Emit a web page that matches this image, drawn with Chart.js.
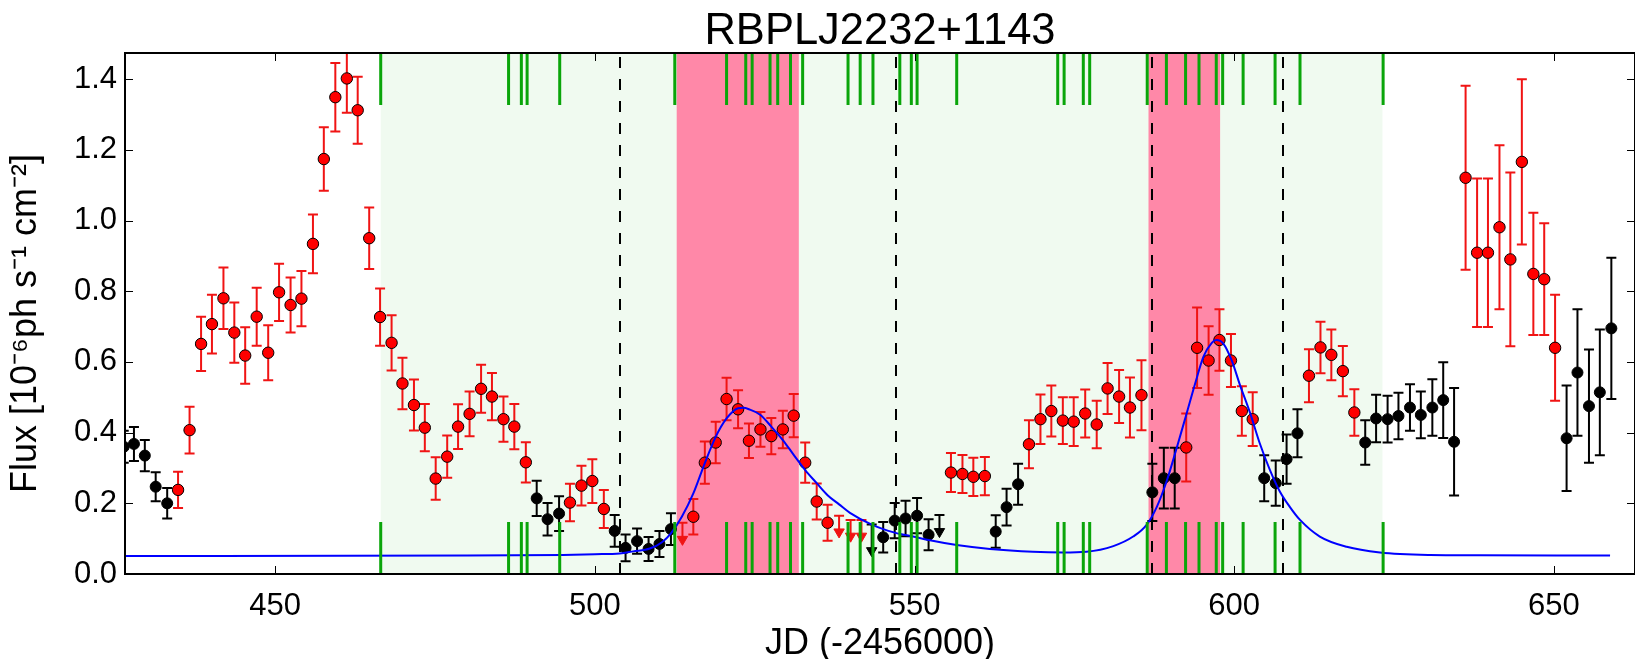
<!DOCTYPE html>
<html><head><meta charset="utf-8">
<script src="https://cdn.jsdelivr.net/npm/chart.js@4.4.1/dist/chart.umd.min.js"></script>
<style>html,body{margin:0;padding:0;background:#fff;overflow:hidden}#wrap{width:1635px;height:659px;position:relative}</style>
</head><body><div id="wrap"><canvas id="c" width="1635" height="659"></canvas></div>
<script>
// ---------- text ----------
const chartTitle = 'RBPLJ2232+1143';
const xLabel = 'JD (-2456000)';
const yLabel = 'Flux [10⁻⁶ph s⁻¹ cm⁻²]  ';
const xTicks = [450, 500, 550, 600, 650];
const yTicks = [0.0, 0.2, 0.4, 0.6, 0.8, 1.0, 1.2, 1.4];

// ---------- detections, red ----------
const redX = [434.8,436.6,438.4,440.1,441.9,443.6,445.3,447.1,448.9,450.6,452.4,454.1,455.9,457.6,459.4,461.2,462.9,464.7,466.4,468.2,469.9,471.7,473.4,475.1,476.9,478.6,480.4,482.2,483.9,485.7,487.4,489.2,
  496.1,497.9,499.6,501.4,
  515.4,517.2,518.9,520.6,522.4,524.1,525.9,527.6,529.4,531.1,532.9,534.7,536.4,
  555.7,557.5,559.2,561.0,
  567.9,569.7,571.4,573.2,574.9,576.7,578.5,580.2,582.0,583.7,585.5,
  592.5,594.2,596.0,597.7,599.5,601.2,602.9,
  611.7,613.5,615.2,617.0,618.8,
  636.2,638.0,639.7,641.5,643.2,645.0,646.8,648.5,650.2];
const redY = [0.238,0.407,0.651,0.707,0.780,0.683,0.618,0.728,0.626,0.797,0.761,0.779,0.934,1.174,1.349,1.402,1.312,0.950,0.727,0.654,0.539,0.478,0.414,0.270,0.332,0.417,0.453,0.524,0.502,0.438,0.417,0.316,
  0.202,0.250,0.263,0.184,
  0.162,0.315,0.372,0.495,0.466,0.377,0.409,0.390,0.409,0.448,0.315,0.205,0.145,
  0.287,0.283,0.275,0.277,
  0.367,0.438,0.461,0.434,0.431,0.454,0.423,0.525,0.502,0.471,0.506,
  0.358,0.640,0.604,0.662,0.604,0.461,0.438,
  0.561,0.641,0.620,0.574,0.457,
  1.121,0.909,0.909,0.981,0.890,1.166,0.849,0.834,0.640];
const redErr = [0.051,0.066,0.077,0.083,0.087,0.085,0.080,0.082,0.078,0.081,0.078,0.078,0.083,0.090,0.097,0.097,0.095,0.087,0.081,0.078,0.073,0.072,0.067,0.060,0.060,0.063,0.063,0.068,0.067,0.064,0.064,0.057,
  0.053,0.056,0.062,0.054,
  0.050,0.060,0.059,0.060,0.054,0.049,0.049,0.051,0.053,0.061,0.057,0.051,0.051,
  0.055,0.054,0.054,0.054,
  0.068,0.070,0.072,0.066,0.069,0.068,0.067,0.072,0.075,0.085,0.099,
  0.096,0.114,0.097,0.087,0.075,0.070,0.076,
  0.075,0.073,0.072,0.071,0.066,
  0.260,0.210,0.210,0.232,0.246,0.234,0.173,0.158,0.150];

// ---------- detections, black ----------
const blackX = [426.3,427.9,429.6,431.3,433.1,
  490.9,492.6,494.4,
  503.1,504.8,506.6,508.4,510.1,511.9,
  545.1,546.9,548.6,550.4,552.2,
  562.7,564.4,566.2,
  587.2,589.0,590.7,
  604.7,606.5,608.2,609.9,
  620.5,622.2,624.0,625.7,627.5,629.2,631.0,632.7,634.4,
  652.0,653.7,655.5,657.2,659.0];
const blackY = [0.360,0.368,0.335,0.247,0.200,
  0.214,0.155,0.171,
  0.122,0.074,0.093,0.071,0.085,0.127,
  0.104,0.151,0.157,0.165,0.111,
  0.120,0.189,0.254,
  0.231,0.271,0.271,
  0.271,0.257,0.325,0.398,
  0.372,0.440,0.438,0.447,0.471,0.450,0.471,0.492,0.374,
  0.384,0.570,0.475,0.514,0.695];
const blackErr = [0.045,0.048,0.044,0.041,0.043,
  0.050,0.046,0.049,
  0.045,0.038,0.036,0.034,0.037,0.045,
  0.043,0.050,0.050,0.050,0.044,
  0.046,0.052,0.058,
  0.081,0.086,0.086,
  0.065,0.064,0.070,0.068,
  0.063,0.067,0.066,0.066,0.066,0.066,0.080,0.107,0.152,
  0.149,0.179,0.160,0.178,0.200];

// ---------- upper limits (cap value, arrow-head value) ----------
const redUlX = [513.7,538.2,540.0,541.7];
const redUlTop = [0.145,0.165,0.153,0.153];
const redUlHead = [0.098,0.119,0.107,0.107];
const blackUlX = [543.3,553.9];
const blackUlTop = [0.140,0.167];
const blackUlHead = [0.066,0.120];

// ---------- model curve ----------
const curveX = [426.5,480,495,500,503.9,506,508.6,510.5,511.9,513.6,515.4,517.2,518.9,520.6,522.4,523.2,524.1,525.9,527.6,529.4,531.1,532.9,534.7,536.4,538.2,539.9,543.4,546.9,550.3,552.2,556.6,561.8,568.5,573.2,576.9,581.1,584.2,586.3,587.9,589.5,591.0,592.5,593.9,595.2,596.5,597.2,598.3,599.6,600.9,602.5,604.0,605.6,607.1,608.7,610.3,613.4,617.6,622.8,630.6,638.4,658.8];
const curveY = [0.051,0.052,0.054,0.056,0.058,0.064,0.072,0.090,0.115,0.162,0.228,0.314,0.388,0.440,0.469,0.470,0.466,0.450,0.417,0.379,0.337,0.294,0.257,0.223,0.197,0.173,0.139,0.117,0.104,0.096,0.082,0.071,0.063,0.061,0.063,0.079,0.106,0.139,0.190,0.266,0.356,0.450,0.539,0.615,0.654,0.662,0.652,0.605,0.535,0.455,0.370,0.294,0.235,0.190,0.153,0.106,0.077,0.061,0.054,0.053,0.052];

// ---------- annotations ----------
const greenSpan = [466.5, 623.2];
const pinkSpans = [[512.8, 531.9], [586.6, 597.8]];
const dashedLinesX = [504.0, 547.1, 587.1, 607.7];
const greenTicksX = [466.5,486.5,488.5,489.4,494.5,512.5,520.6,523.6,524.6,527.4,528.6,530.6,532.5,539.6,541.5,543.5,547.7,549.5,550.4,556.6,572.4,573.4,576.4,577.4,586.4,589.4,592.4,594.5,597.2,598.2,601.4,606.4,610.3,623.3];

const FONT = "'Liberation Sans', Arial, Helvetica, sans-serif";
const toPts = (xs, ys) => xs.map((x, i) => ({x, y: ys[i]}));

const decor = {
  id: 'decor',
  beforeDatasetsDraw(chart) {
    const {ctx, chartArea: a, scales: {x, y}} = chart;
    ctx.save();
    ctx.beginPath(); ctx.rect(a.left, a.top, a.right - a.left, a.bottom - a.top); ctx.clip();
    ctx.fillStyle = 'rgb(240,250,240)';
    const l = x.getPixelForValue(greenSpan[0]), r = x.getPixelForValue(greenSpan[1]);
    ctx.fillRect(l, a.top, r - l, a.bottom - a.top);
    ctx.fillStyle = 'rgb(255,136,168)';
    pinkSpans.forEach(s => {
      const p0 = x.getPixelForValue(s[0]), p1 = x.getPixelForValue(s[1]);
      ctx.fillRect(p0, a.top, p1 - p0, a.bottom - a.top);
    });
    ctx.strokeStyle = '#000'; ctx.lineWidth = 2; ctx.setLineDash([11, 11]);
    dashedLinesX.forEach(v => {
      const px = Math.round(x.getPixelForValue(v));
      ctx.beginPath(); ctx.moveTo(px, a.bottom); ctx.lineTo(px, a.top); ctx.stroke();
    });
    ctx.setLineDash([]);
    const eb = (xs, ys, es, col) => {
      ctx.strokeStyle = col; ctx.lineWidth = 2;
      xs.forEach((v, i) => {
        const px = x.getPixelForValue(v);
        const y0 = y.getPixelForValue(ys[i] - es[i]), y1 = y.getPixelForValue(ys[i] + es[i]);
        ctx.beginPath();
        ctx.moveTo(px, y0); ctx.lineTo(px, y1);
        ctx.moveTo(px - 5, y0); ctx.lineTo(px + 5, y0);
        ctx.moveTo(px - 5, y1); ctx.lineTo(px + 5, y1);
        ctx.stroke();
      });
    };
    eb(redX, redY, redErr, 'rgb(240,20,20)');
    eb(blackX, blackY, blackErr, '#000');
    const ul = (xs, tops, heads, col) => {
      ctx.strokeStyle = col; ctx.lineWidth = 2;
      xs.forEach((v, i) => {
        const px = x.getPixelForValue(v);
        const y0 = y.getPixelForValue(tops[i]), y1 = y.getPixelForValue(heads[i]);
        ctx.beginPath();
        ctx.moveTo(px, y0); ctx.lineTo(px, y1);
        ctx.moveTo(px - 5, y0); ctx.lineTo(px + 5, y0);
        ctx.stroke();
      });
    };
    ul(redUlX, redUlTop, redUlHead, 'rgb(240,20,20)');
    ul(blackUlX, blackUlTop, blackUlHead, '#000');
    ctx.restore();
  },
  afterDatasetsDraw(chart) {
    const {ctx, chartArea: a, scales: {x, y}} = chart;
    ctx.save();
    ctx.strokeStyle = 'rgb(10,165,10)'; ctx.lineWidth = 3;
    const h = 0.1 * (a.bottom - a.top);
    greenTicksX.forEach(v => {
      const px = x.getPixelForValue(v);
      ctx.beginPath();
      ctx.moveTo(px, a.bottom); ctx.lineTo(px, a.bottom - h);
      ctx.moveTo(px, a.top); ctx.lineTo(px, a.top + h);
      ctx.stroke();
    });
    ctx.strokeStyle = '#000'; ctx.lineWidth = 1;
    xTicks.forEach(v => {
      const px = Math.round(x.getPixelForValue(v)) + 0.5;
      ctx.beginPath();
      ctx.moveTo(px, a.bottom); ctx.lineTo(px, a.bottom - 8);
      ctx.moveTo(px, a.top); ctx.lineTo(px, a.top + 8);
      ctx.stroke();
    });
    yTicks.forEach(v => {
      const py = Math.round(y.getPixelForValue(v)) + 0.5;
      ctx.beginPath();
      ctx.moveTo(a.left, py); ctx.lineTo(a.left + 8, py);
      ctx.moveTo(a.right, py); ctx.lineTo(a.right - 8, py);
      ctx.stroke();
    });
    ctx.lineWidth = 2;
    ctx.strokeRect(a.left, a.top, a.right - a.left, a.bottom - a.top);
    ctx.restore();
  }
};

new Chart(document.getElementById('c'), {
  type: 'scatter',
  data: {
    datasets: [
      {label: 'model', data: toPts(curveX, curveY), showLine: true, borderColor: 'rgb(0,0,255)', borderWidth: 2,
       pointRadius: 0, cubicInterpolationMode: 'monotone', order: 0, clip: 0},
      {label: 'detections', data: toPts(redX, redY), backgroundColor: 'rgb(255,0,0)', borderColor: '#000', borderWidth: 1,
       pointRadius: 5.7, order: 2, clip: 0},
      {label: 'low TS', data: toPts(blackX, blackY), backgroundColor: '#000', borderColor: '#000', borderWidth: 1,
       pointRadius: 5.5, order: 2, clip: 0},
      {label: 'upper limits', data: toPts(redUlX, redUlHead), pointStyle: 'triangle', rotation: 180,
       backgroundColor: 'rgb(240,20,20)', borderColor: 'rgb(240,20,20)', borderWidth: 1, pointRadius: 6, order: 2, clip: 0},
      {label: 'upper limits low', data: toPts(blackUlX, blackUlHead), pointStyle: 'triangle', rotation: 180,
       backgroundColor: '#000', borderColor: '#000', borderWidth: 1, pointRadius: 6, order: 2, clip: 0}
    ]
  },
  options: {
    responsive: false, animation: false, devicePixelRatio: 1,
    layout: {padding: {left: 0, right: 0, top: 0, bottom: 0}, autoPadding: false},
    plugins: {
      legend: {display: false}, tooltip: {enabled: false},
      title: {display: true, text: chartTitle, color: '#000', fullSize: false,
              font: {family: FONT, size: 43.5, weight: 'normal', lineHeight: 1.0}, padding: {top: 10, bottom: -0.5}}
    },
    scales: {
      x: {
        type: 'linear', position: 'bottom', min: 426.5, max: 662.7,
        afterBuildTicks: s => { s.ticks = xTicks.map(v => ({value: v})); },
        afterFit: s => { s.height = 85; },
        grid: {display: false, drawTicks: false}, border: {display: false},
        ticks: {color: '#000', font: {family: FONT, size: 31}, padding: 14, maxRotation: 0, autoSkip: false,
                callback: v => String(v)},
        title: {display: true, text: xLabel, color: '#000', font: {family: FONT, size: 36, lineHeight: 0.85}, padding: {top: 0, bottom: 0}}
      },
      y: {
        type: 'linear', position: 'left', min: 0, max: 1.474,
        afterBuildTicks: s => { s.ticks = yTicks.map(v => ({value: v})); },
        afterFit: s => { s.width = 125; },
        grid: {display: false, drawTicks: false}, border: {display: false},
        ticks: {color: '#000', font: {family: FONT, size: 31}, padding: 8, autoSkip: false,
                callback: v => Number(v).toFixed(1)},
        title: {display: true, text: yLabel, color: '#000', font: {family: FONT, size: 36}, padding: {top: 4, bottom: 0}}
      }
    }
  },
  plugins: [decor]
});
</script></body></html>
